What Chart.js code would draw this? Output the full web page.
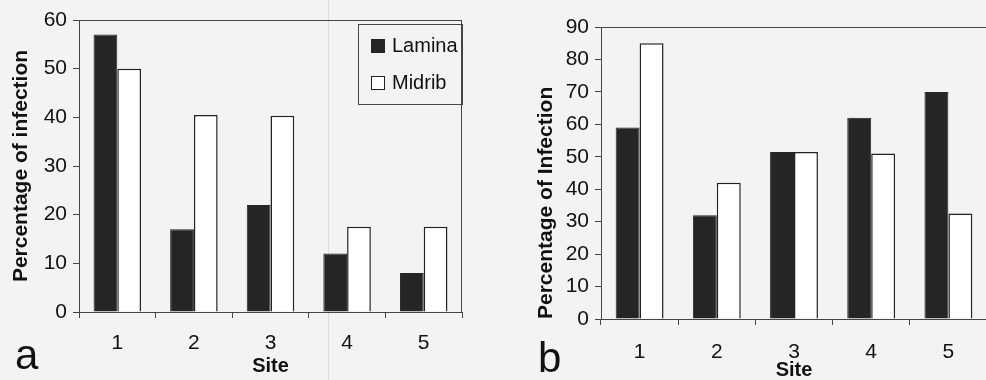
<!DOCTYPE html>
<html>
<head>
<meta charset="utf-8">
<script src="https://cdn.jsdelivr.net/npm/chart.js@4.4.1/dist/chart.umd.min.js"></script>
<style>
  html, body { margin: 0; padding: 0; }
  body { width: 986px; height: 380px; overflow: hidden; position: relative; background: #f3f3f3;
         font-family: "Liberation Sans", Arial, sans-serif; color: #111; }
  canvas { position: absolute; top: 0; }
  #chartA { left: 0; }
  #chartB { left: 480px; }
  .panel { position: absolute; font-size: 42px; line-height: 1; }
  #fold { position: absolute; left: 328px; top: 0; width: 1px; height: 380px; background: #dcdcdc; }
  #legend { position: absolute; left: 358px; top: 24px; width: 105px; height: 81px;
            border: 1px solid #444; box-sizing: border-box; font-size: 20px; }
  #legend div { position: absolute; left: 12px; height: 22px; line-height: 22px; }
  #legend span { display: inline-block; width: 14px; height: 14px; box-sizing: border-box;
                 border: 1.5px solid #222; margin-right: 7px; vertical-align: -1px; }
</style>
</head>
<body>
<div id="fold"></div>
<canvas id="chartA" width="480" height="380"></canvas>
<canvas id="chartB" width="520" height="380"></canvas>
<div class="panel" style="left:15px; top:334px;">a</div>
<div class="panel" style="left:538px; top:337px;">b</div>
<div id="legend">
  <div style="top:9px;"><span style="background:#252525;"></span>Lamina</div>
  <div style="top:46px;"><span style="background:#fff;"></span>Midrib</div>
</div>
<script>
var sites = ['1', '2', '3', '4', '5'];

// panel a
var laminaA = [57, 17, 22, 12, 8];
var midribA = [50, 40.5, 40.3, 17.5, 17.5];
var yTicksA = [0, 10, 20, 30, 40, 50, 60];

// panel b
var laminaB = [59, 32, 51.5, 62, 70];
var midribB = [85, 42, 51.5, 51, 32.5];
var yTicksB = [0, 10, 20, 30, 40, 50, 60, 70, 80, 90];

var axisColor = '#444';
var textColor = '#111';
var fontFamily = '"Liberation Sans", Arial, sans-serif';

// top line (and right line) of the plot frame
var framePlugin = {
    id: 'frame',
    afterDraw: function (chart, args, opts) {
        var a = chart.chartArea, ctx = chart.ctx;
        ctx.save();
        ctx.strokeStyle = axisColor;
        ctx.lineWidth = 1;
        ctx.beginPath();
        ctx.moveTo(a.left, a.top + 0.5);
        ctx.lineTo(a.right, a.top + 0.5);
        if (opts.right) {
            ctx.moveTo(a.right - 0.5, a.top);
            ctx.lineTo(a.right - 0.5, a.bottom);
        }
        ctx.stroke();
        ctx.restore();
    }
};

function makeChart(id, lamina, midrib, yTicks, yTitle, box) {
    var ctx = document.getElementById(id);
    return new Chart(ctx, {
        type: 'bar',
        data: {
            labels: sites,
            datasets: [
                { label: 'Lamina', data: lamina, backgroundColor: '#252525', borderColor: '#252525', borderWidth: 1 },
                { label: 'Midrib', data: midrib, backgroundColor: '#ffffff', borderColor: '#222', borderWidth: 1.5 }
            ]
        },
        options: {
            responsive: false,
            animation: false,
            layout: { padding: { top: box.top, right: box.right, bottom: 0, left: 0 } },
            datasets: { bar: { categoryPercentage: 0.62, barPercentage: 1 } },
            plugins: {
                legend: { display: false },
                tooltip: { enabled: false },
                frame: { right: box.frameRight }
            },
            scales: {
                x: {
                    afterFit: function (scale) { scale.height = box.xHeight; },
                    grid: { display: true, drawOnChartArea: false, color: axisColor, tickLength: 6, offset: true },
                    border: { color: axisColor, width: 1 },
                    ticks: { color: textColor, padding: box.xPad, font: { family: fontFamily, size: 21 } },
                    title: {
                        display: true, text: 'Site', color: textColor,
                        padding: { top: 0, bottom: box.titlePad },
                        font: { family: fontFamily, size: 20, weight: 'bold', lineHeight: box.titleLh }
                    }
                },
                y: {
                    min: yTicks[0],
                    max: yTicks[yTicks.length - 1],
                    afterFit: function (scale) { scale.width = box.yWidth; },
                    grid: { display: true, drawOnChartArea: false, color: axisColor, tickLength: 6 },
                    border: { color: axisColor, width: 1 },
                    ticks: { stepSize: yTicks[1] - yTicks[0], color: textColor, padding: box.yPad,
                             font: { family: fontFamily, size: 21 } },
                    title: {
                        display: true, text: yTitle, color: textColor, align: box.yAlign,
                        padding: { top: box.yTitlePad, bottom: 0 },
                        font: { family: fontFamily, size: 21, weight: 'bold' }
                    }
                }
            }
        },
        plugins: [framePlugin]
    });
}

makeChart('chartA', laminaA, midribA, yTicksA, 'Percentage of infection', {
    top: 20, right: 18, xHeight: 68, xPad: 13, titlePad: 2, titleLh: 1.2,
    yWidth: 79, yPad: 6, yTitlePad: 9, yAlign: 'center', frameRight: true
});

makeChart('chartB', laminaB, midribB, yTicksB, 'Percentage of Infection', {
    top: 27, right: 13, xHeight: 61, xPad: 15, titlePad: 0, titleLh: 1,
    yWidth: 121, yPad: 6, yTitlePad: 54, yAlign: 'start', frameRight: false
});
</script>
</body>
</html>
